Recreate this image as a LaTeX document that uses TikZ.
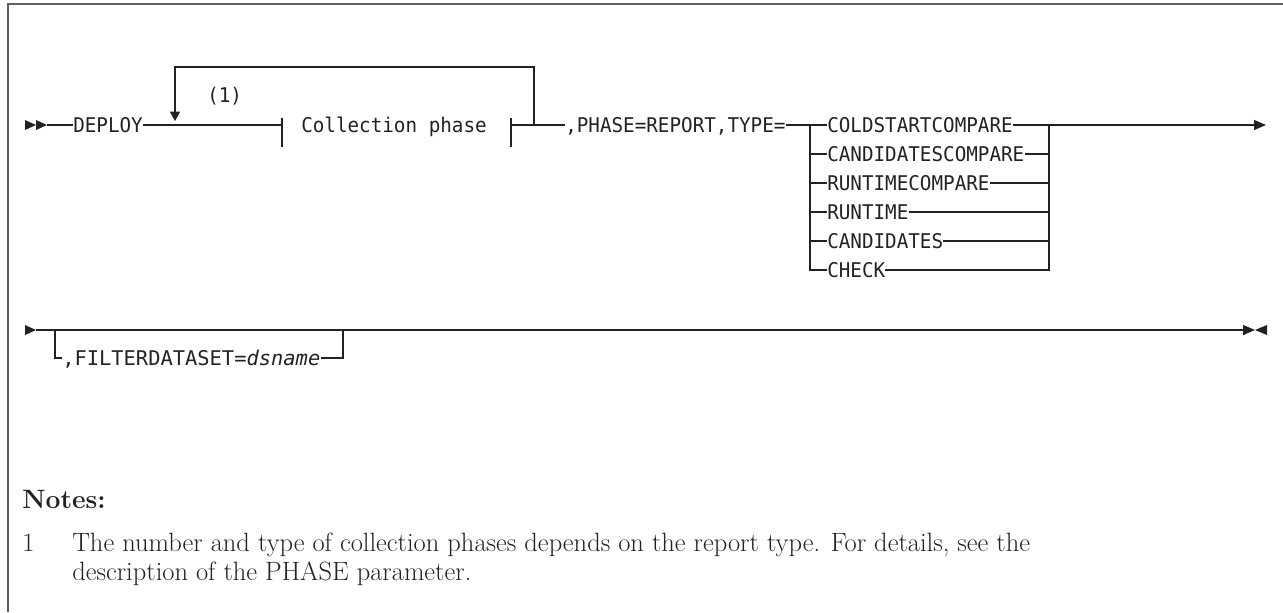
\documentclass[tikz,border=0pt]{standalone}
\usepackage{fontspec}
\usetikzlibrary{arrows.meta,calc}
\newfontfamily\synfont[FakeStretch=0.95]{DejaVu Sans Mono}
\definecolor{ink}{HTML}{222222}
\definecolor{framec}{HTML}{606060}
\newlength\noteonewidth
\settowidth\noteonewidth{\fontsize{10pt}{12pt}\selectfont The number and type of collection phases depends on the report type. For details, see the}
\begin{document}
\begin{tikzpicture}[x=0.75pt,y=-0.75pt,
  syn/.style={font=\synfont\fontsize{15.2pt}{17pt}\selectfont, inner sep=0pt, text=ink, anchor=west, text height=11.1pt, text depth=0pt},
  ln/.style={draw=ink, line width=1pt},
  tipr/.style={-{Triangle[length=9pt,width=7.5pt]}},
  tipd/.style={-{Triangle[length=7pt,width=7.5pt]}},
  notefont/.style={inner sep=0pt, text=ink, anchor=base west, font=\notesize}
]
\pgfmathsetmacro{\nfs}{10*786/\noteonewidth}
\pgfmathsetmacro{\nfb}{1.2*\nfs}
\def\notesize{\fontsize{\nfs pt}{\nfb pt}\selectfont}
\useasboundingbox (0,0) rectangle (1283,612);
% frame
\draw[framec, line width=1.4pt] (8,612) -- (8,4) -- (1283,4);

% ---------- row 1 ----------
\fill[ink] (25,120) -- (36,125) -- (25,130) -- cycle;
\fill[ink] (36,120) -- (47,125) -- (36,130) -- cycle;
\coordinate (st1) at (47,125);
\node[syn] (deploy) at (73,125) {DEPLOY};
\draw[ln] (st1) -- (deploy.west);

\coordinate (bl) at (282,125);
\coordinate (br) at (511,125);
\coordinate (lp) at (534,125);
\coordinate (la) at (175,121);
\node[syn] (cp) at (301,125) {Collection phase};
\node[syn] (n1) at (207,95) {(1)};
\draw[ln] (deploy.east) -- (bl);
\draw[ln] (282,118) -- (282,147);
\draw[ln] (511,118) -- (511,147);
\draw[ln,tipd] (lp) -- (534,67) -- (175,67) -- (la);

\node[syn] (phase) at (565,125) {,PHASE=REPORT,TYPE=};
\draw[ln] (br) -- (phase.west);

% options
\coordinate (lv) at (810,125);
\coordinate (rv) at (1049,125);
\node[syn] (o1) at (827,125) {COLDSTARTCOMPARE};
\node[syn] (o2) at (827,154) {CANDIDATESCOMPARE};
\node[syn] (o3) at (827,183) {RUNTIMECOMPARE};
\node[syn] (o4) at (827,212) {RUNTIME};
\node[syn] (o5) at (827,241) {CANDIDATES};
\node[syn] (o6) at (827,270) {CHECK};
\draw[ln] (phase.east) -- (o1.west);
\draw[ln] (lv) |- (o6.west);
\foreach \o in {o2,o3,o4,o5} \draw[ln] (lv |- \o.west) -- (\o.west);
\foreach \o in {o2,o3,o4,o5} \draw[ln] (\o.east) -- (rv |- \o.east);
\draw[ln] (o6.east) -| (rv);
\coordinate (end1) at (1266,125);
\draw[ln,tipr] (o1.east) -- (end1);

% ---------- row 2 ----------
\fill[ink] (25,325) -- (36,330) -- (25,335) -- cycle;
\coordinate (st2) at (36,330);
\coordinate (end2) at (1255,330);
\draw[ln,tipr] (st2) -- (end2);
\fill[ink] (1267,325) -- (1255,330) -- (1267,335) -- cycle;
\node[syn] (fd) at (62,358) {\scalebox{1.06}[1]{,FILTERDATASET=\textit{dsname}}};
\draw[ln] (55,330) |- (fd.west);
\draw[ln] (fd.east) -| (343,330);

% ---------- notes ----------
\node[notefont] (notes) at (22,508) {\bfseries Notes:};
\node[notefont] (num) at (22,551) {1};
\node[notefont] (l1) at (72,551) {The number and type of collection phases depends on the report type. For details, see the};
\node[notefont] (l2) at (72,580) {description of the PHASE parameter.};
\end{tikzpicture}
\end{document}
